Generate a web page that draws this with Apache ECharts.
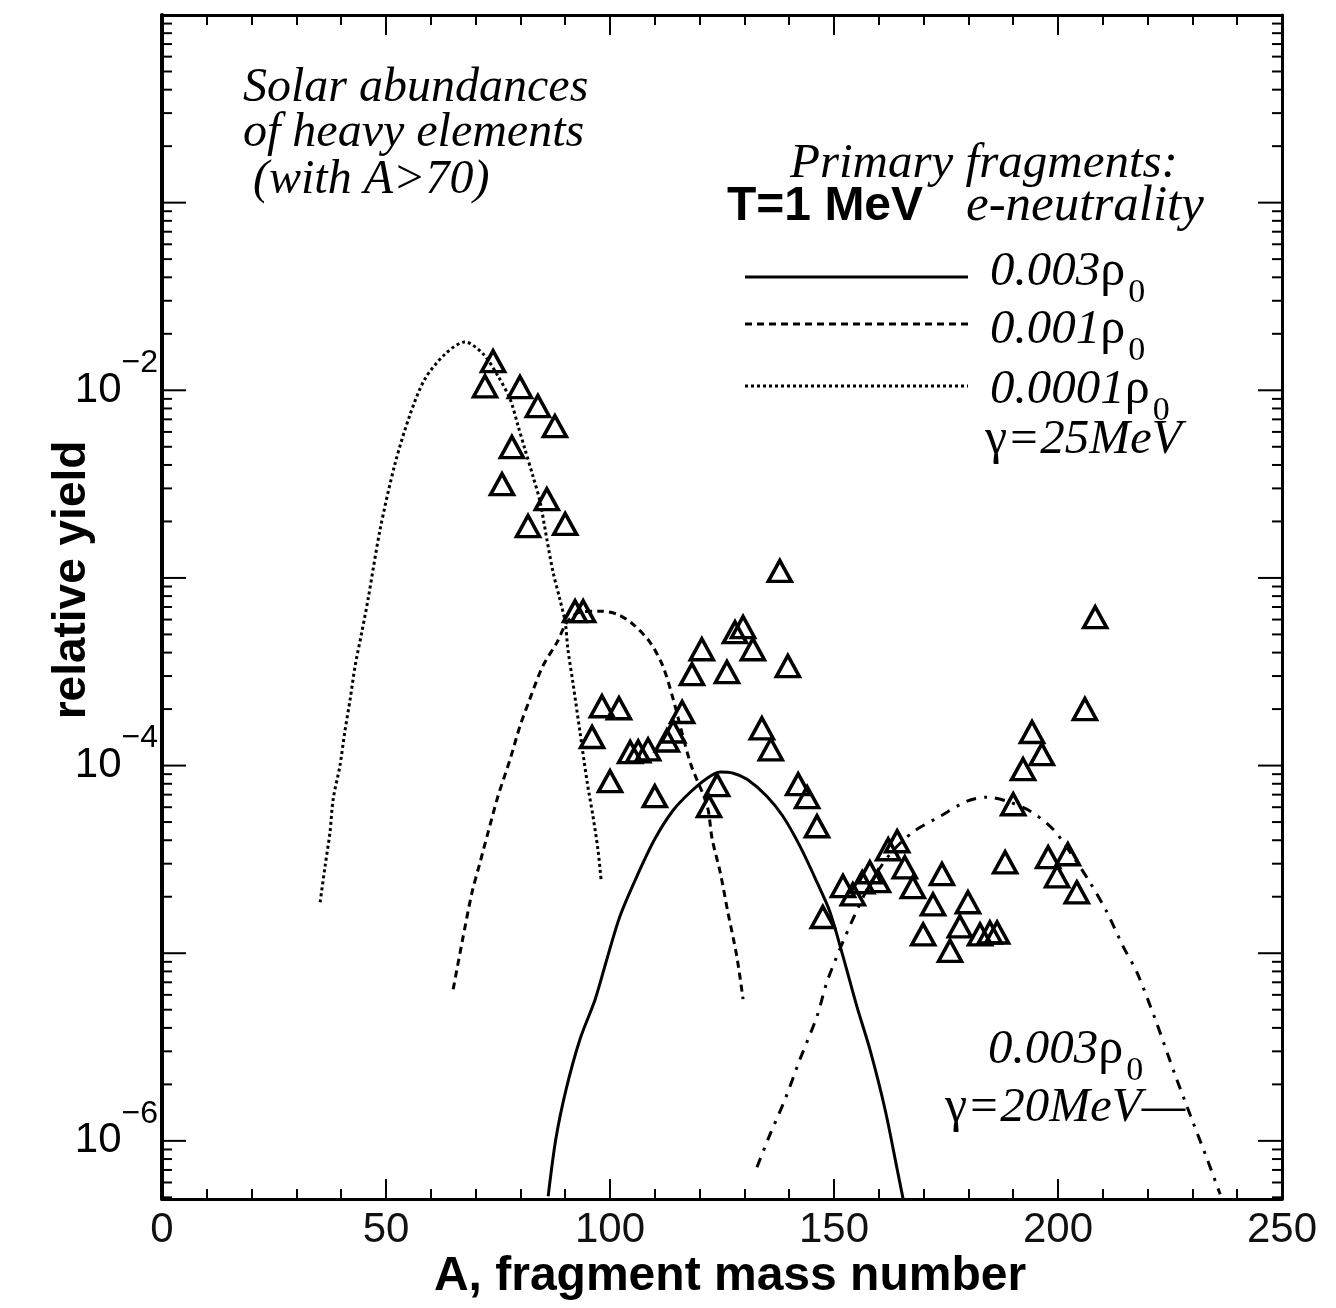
<!DOCTYPE html>
<html>
<head>
<meta charset="utf-8">
<script src="https://cdn.jsdelivr.net/npm/echarts@6/dist/echarts.min.js"></script>
<style>
  html, body { margin: 0; padding: 0; background: #fff; }
  #chart { width: 1336px; height: 1308px; }
</style>
</head>
<body>
<div id="chart"></div>
<script>
// Solar abundances of heavy elements (A > 70)
const solarA = [72.1, 73.9, 75.9, 78.1, 79.9, 81.7, 83.9, 85.9, 87.7, 90.0,
  92.2, 94.0, 96.0, 98.2, 100.0, 102.0, 104.5, 106.3, 108.5, 110.0,
  112.7, 114.1, 116.1, 118.3, 120.5, 122.1, 123.9, 126.1, 127.9, 129.7,
  131.9, 133.9, 135.9, 137.9, 139.7, 142.0, 144.0, 146.2, 147.5, 152.0,
  154.2, 156.3, 158.0, 159.8, 162.1, 164.1, 165.8, 167.6, 169.9, 172.1,
  174.1, 175.9, 178.1, 179.9, 182.6, 184.8, 186.4, 188.2, 190.0, 192.2,
  194.2, 196.4, 197.8, 199.8, 202.2, 204.2, 206.0, 208.3];
const solarY = [1.05e-2, 1.43e-2, 3.16e-3, 4.98e-3, 1.04e-2, 1.89e-3, 8.24e-3, 2.63e-3, 6.44e-3, 1.94e-3,
  6.65e-4, 6.65e-4, 1.42e-4, 2.07e-4, 8.26e-5, 2.02e-4, 1.18e-4, 1.19e-4, 1.22e-4, 6.87e-5,
  1.36e-4, 1.52e-4, 1.93e-4, 3.07e-4, 4.17e-4, 6.08e-5, 7.87e-5, 3.15e-4, 5.14e-4, 5.47e-4,
  4.17e-4, 1.58e-4, 1.22e-4, 1.09e-3, 3.39e-4, 7.96e-5, 6.79e-5, 4.75e-5, 1.56e-5, 2.28e-5,
  2.06e-5, 2.39e-5, 2.70e-5, 2.42e-5, 3.58e-5, 3.95e-5, 2.87e-5, 2.25e-5, 1.26e-5, 1.82e-5,
  2.64e-5, 1.03e-5, 1.39e-5, 1.87e-5, 1.26e-5, 1.29e-5, 1.29e-5, 3.05e-5, 6.22e-5, 9.57e-5,
  1.51e-4, 1.15e-4, 3.25e-5, 2.57e-5, 3.37e-5, 2.11e-5, 2.00e-4, 6.18e-4];

// Primary fragments, T = 1 MeV, electro-neutral matter
// 0.003 rho0, gamma = 25 MeV (solid)
const rho0003A = [86.2, 87.9, 90.2, 93.3, 96.7, 99.3, 102.2, 106.0, 110.0, 114.1,
  117.9, 121.7, 124.6, 127.5, 130.6, 135.0, 138.6, 142.4, 146.2, 149.1,
  152.0, 155.1, 158.0, 161.4, 164.1, 165.4];
const rho0003Y = [5.07e-7, 1.02e-6, 1.88e-6, 3.48e-6, 5.69e-6, 9.29e-6, 1.57e-5, 2.57e-5, 4.06e-5, 5.78e-5,
  7.21e-5, 8.57e-5, 9.23e-5, 9.10e-5, 8.45e-5, 6.87e-5, 5.37e-5, 3.72e-5, 2.39e-5, 1.66e-5,
  9.64e-6, 5.21e-6, 3.08e-6, 1.47e-6, 7.06e-7, 4.94e-7];

// 0.001 rho0, gamma = 25 MeV (dashed)
const rho0001A = [65.0, 67.0, 69.2, 71.0, 72.8, 75.0, 77.7, 79.9, 82.1, 85.0,
  88.2, 90.4, 93.3, 97.8, 101.6, 105.1, 108.9, 111.8, 114.1, 117.9,
  121.7, 122.8, 124.6, 126.3, 128.3, 129.7];
const rho0001Y = [6.43e-6, 1.15e-5, 2.11e-5, 3.05e-5, 4.42e-5, 6.87e-5, 1.08e-4, 1.62e-4, 2.26e-4, 3.39e-4,
  4.55e-4, 5.81e-4, 6.58e-4, 6.65e-4, 6.41e-4, 5.68e-4, 4.55e-4, 3.39e-4, 2.26e-4, 1.04e-4,
  6.08e-5, 4.06e-5, 2.70e-5, 1.66e-5, 9.64e-6, 5.69e-6];

// 0.0001 rho0, gamma = 25 MeV (dotted)
const rho00001A = [35.3, 36.4, 37.5, 38.2, 39.7, 40.8, 42.0, 43.1, 44.6, 46.0,
  48.7, 52.0, 55.4, 58.7, 63.2, 67.6, 71.7, 75.0, 77.7, 79.5,
  81.0, 82.8, 84.4, 85.9, 87.3, 88.8, 90.0, 90.6, 91.7, 93.3,
  94.9, 96.2, 97.3, 98.0];
const rho00001Y = [1.87e-5, 2.91e-5, 4.42e-5, 6.62e-5, 9.93e-5, 1.51e-4, 2.26e-4, 3.39e-4, 5.14e-4, 7.71e-4,
  1.82e-3, 4.05e-3, 7.46e-3, 1.15e-2, 1.56e-2, 1.81e-2, 1.56e-2, 1.19e-2, 8.97e-3, 6.44e-3,
  4.86e-3, 3.49e-3, 2.54e-3, 1.61e-3, 1.07e-3, 7.71e-4, 5.81e-4, 4.17e-4, 2.79e-4, 1.51e-4,
  8.17e-5, 5.37e-5, 3.58e-5, 2.48e-5];

// 0.003 rho0, gamma = 20 MeV (dash-dot)
const rho0003g20A = [132.8, 135.7, 139.1, 142.4, 146.2, 148.4, 151.3, 154.7, 158.0, 162.5,
  167.6, 173.7, 179.7, 184.2, 188.6, 193.8, 198.9, 203.3, 207.1, 210.9,
  214.5, 217.6, 221.7, 226.1, 229.9, 233.3, 236.2];
const rho0003g20Y = [7.23e-7, 1.08e-6, 1.67e-6, 2.72e-6, 4.61e-6, 7.00e-6, 1.05e-5, 1.61e-5, 2.33e-5, 3.37e-5,
  4.42e-5, 5.37e-5, 6.46e-5, 6.79e-5, 6.46e-5, 5.71e-5, 4.58e-5, 3.29e-5, 2.39e-5, 1.66e-5,
  1.09e-5, 7.92e-6, 4.45e-6, 2.26e-6, 1.30e-6, 7.98e-7, 5.19e-7];

// Axis ranges and ticks
const xMin = 0, xMax = 250, xStep = 50;
const yMin = 4.9e-7, yMax = 1;
const yDecades = [1e-7, 1e-6, 1e-5, 1e-4, 1e-3, 1e-2, 1e-1];
const yMinorSteps = [2, 3, 4, 5, 6, 7, 8, 9];
const yLabelValues = [1e-2, 1e-4, 1e-6];
const yLabelExponents = ['\u22122', '\u22124', '\u22126'];

const zip = (xs, ys) => xs.map((x, i) => [x, ys[i]]);

// tick marks on both vertical axes: [x, value, isMajor]
const yTickData = [];
yDecades.forEach(d => {
  if (d >= yMin && d <= yMax) yTickData.push([xMin, d, 1]);
  yMinorSteps.forEach(k => {
    const v = k * d;
    if (v >= yMin && v <= yMax) yTickData.push([xMin, v, 0]);
  });
});
const yLabelData = yLabelValues.map((v, i) => [xMin, v, i]);

const SERIF = '"Liberation Serif", "DejaVu Serif", serif';
const SANS = '"Liberation Sans", Arial, sans-serif';
const BLACK = '#000';

const serifRich = {
  n: { fontFamily: SERIF, fontStyle: 'italic', fontSize: 49, color: BLACK },
  g: { fontFamily: SERIF, fontSize: 50, color: BLACK },
  s: { fontFamily: SERIF, fontSize: 34, color: BLACK, padding: [42, 0, 0, 3] }
};

function txt(x, y, text, extra) {
  return {
    type: 'text', x: x, y: y, silent: true, z: 20,
    style: Object.assign({
      text: text, fill: BLACK,
      fontFamily: SERIF, fontStyle: 'italic', fontSize: 48,
      textAlign: 'left', textVerticalAlign: 'middle',
      align: 'left', verticalAlign: 'middle'
    }, extra || {})
  };
}
function richTxt(x, y, text) {
  return txt(x, y, text, { rich: serifRich, fontStyle: 'normal' });
}
function legendLine(y, dash) {
  return {
    type: 'line', silent: true, z: 20,
    shape: { x1: 745, y1: y, x2: 968, y2: y },
    style: { stroke: BLACK, lineWidth: 3, lineDash: dash || null }
  };
}

const xAxisBase = {
  type: 'value', min: xMin, max: xMax, interval: xStep,
  axisLine: { show: true, onZero: false, lineStyle: { color: BLACK, width: 3 } },
  axisTick: { show: true, inside: true, length: 20, lineStyle: { color: BLACK, width: 2 } },
  minorTick: { show: true, splitNumber: 5, length: 10, lineStyle: { color: BLACK, width: 2 } },
  splitLine: { show: false },
  minorSplitLine: { show: false }
};
const yAxisBase = {
  type: 'log', logBase: 10, min: yMin, max: yMax,
  axisLine: { show: true, onZero: false, lineStyle: { color: BLACK, width: 3 } },
  axisTick: { show: false },
  axisLabel: { show: false },
  splitLine: { show: false }
};

const chart = echarts.init(document.getElementById('chart'), null, { renderer: 'canvas' });
chart.setOption({
  animation: false,
  backgroundColor: '#fff',
  grid: { left: 162, right: 54, top: 15, bottom: 109, containLabel: false },
  xAxis: [
    Object.assign({}, xAxisBase, {
      position: 'bottom',
      axisLabel: { show: true, margin: 10, fontSize: 42, fontFamily: SANS, color: '#111' }
    }),
    Object.assign({}, xAxisBase, { position: 'top', axisLabel: { show: false } })
  ],
  yAxis: [
    Object.assign({}, yAxisBase, { position: 'left', axisLine: { show: true, onZero: false, lineStyle: { color: BLACK, width: 4 } } }),
    Object.assign({}, yAxisBase, { position: 'right' })
  ],
  series: [
    {
      name: '0.003\u03c10', type: 'line', data: zip(rho0003A, rho0003Y),
      showSymbol: false, smooth: 0.3, silent: true, z: 3,
      lineStyle: { color: BLACK, width: 3 }
    },
    {
      name: '0.001\u03c10', type: 'line', data: zip(rho0001A, rho0001Y),
      showSymbol: false, smooth: 0.3, silent: true, z: 3,
      lineStyle: { color: BLACK, width: 3, type: [7, 5] }
    },
    {
      name: '0.0001\u03c10', type: 'line', data: zip(rho00001A, rho00001Y),
      showSymbol: false, smooth: 0.3, silent: true, z: 3,
      lineStyle: { color: BLACK, width: 3, type: [3, 3] }
    },
    {
      name: '0.003\u03c10 \u03b3=20MeV', type: 'line', data: zip(rho0003g20A, rho0003g20Y),
      showSymbol: false, smooth: 0.3, silent: true, z: 3,
      lineStyle: { color: BLACK, width: 3, type: [10, 8, 3, 8] }
    },
    {
      name: 'Solar abundances', type: 'scatter', data: zip(solarA, solarY),
      symbol: 'triangle', symbolSize: [23, 21], silent: true, z: 4,
      itemStyle: { color: 'rgba(0,0,0,0)', borderColor: BLACK, borderWidth: 3.5, opacity: 1 }
    },
    {
      // decade and sub-decade ticks on the left and right frame
      type: 'custom', data: yTickData, silent: true, clip: false, z: 5,
      renderItem: function (params, api) {
        const v = api.value(1);
        const major = api.value(2) === 1;
        const l = api.coord([xMin, v]);
        const r = api.coord([xMax, v]);
        const len = major ? 24 : 10;
        return {
          type: 'group',
          children: [
            { type: 'line', shape: { x1: l[0], y1: l[1], x2: l[0] + len, y2: l[1] }, style: { stroke: BLACK, lineWidth: 2 } },
            { type: 'line', shape: { x1: r[0], y1: r[1], x2: r[0] - len, y2: r[1] }, style: { stroke: BLACK, lineWidth: 2 } }
          ]
        };
      }
    },
    {
      // power-of-ten labels on the left axis
      type: 'custom', data: yLabelData, silent: true, clip: false, z: 5,
      renderItem: function (params, api) {
        const v = api.value(1);
        const idx = api.value(2);
        const p = api.coord([xMin, v]);
        return {
          type: 'text', x: p[0] - 4, y: p[1],
          style: {
            text: '{b|10}{p|' + yLabelExponents[idx] + '}',
            align: 'right', verticalAlign: 'middle',
            textAlign: 'right', textVerticalAlign: 'middle',
            rich: {
              b: { fontFamily: SANS, fontSize: 42, color: '#111' },
              p: { fontFamily: SANS, fontSize: 32, color: '#111', padding: [0, 0, 54, 0] }
            }
          }
        };
      }
    }
  ],
  graphic: [
    txt(243, 88, 'Solar abundances'),
    txt(243, 133, 'of heavy elements'),
    txt(253, 180, '(with A>70)'),
    txt(790, 164, 'Primary fragments:', { fontSize: 49 }),
    txt(727, 207, 'T=1 MeV', { fontFamily: SANS, fontStyle: 'normal', fontWeight: 'bold', fontSize: 48 }),
    txt(966, 207, 'e-neutrality', { fontSize: 51 }),
    legendLine(277),
    legendLine(324, [7, 5]),
    legendLine(386, [3, 3]),
    richTxt(990, 272, '{n|0.003}{g|\u03c1}{s|0}'),
    richTxt(990, 330, '{n|0.001}{g|\u03c1}{s|0}'),
    richTxt(990, 390, '{n|0.0001}{g|\u03c1}{s|0}'),
    richTxt(985, 440, '{g|\u03b3}{n|=25MeV}'),
    richTxt(988, 1050, '{n|0.003}{g|\u03c1}{s|0}'),
    richTxt(945, 1108, '{g|\u03b3}{n|=20MeV\u2014}'),
    {
      type: 'text', x: 72, y: 580, rotation: Math.PI / 2, silent: true,
      style: {
        text: 'relative yield', fill: BLACK, fontFamily: SANS, fontWeight: 'bold', fontSize: 46,
        align: 'center', verticalAlign: 'middle', textAlign: 'center', textVerticalAlign: 'middle'
      }
    },
    {
      type: 'text', x: 730, y: 1277, silent: true,
      style: {
        text: 'A, fragment mass number', fill: BLACK, fontFamily: SANS, fontWeight: 'bold', fontSize: 48,
        align: 'center', verticalAlign: 'middle', textAlign: 'center', textVerticalAlign: 'middle'
      }
    }
  ]
});
</script>
</body>
</html>
